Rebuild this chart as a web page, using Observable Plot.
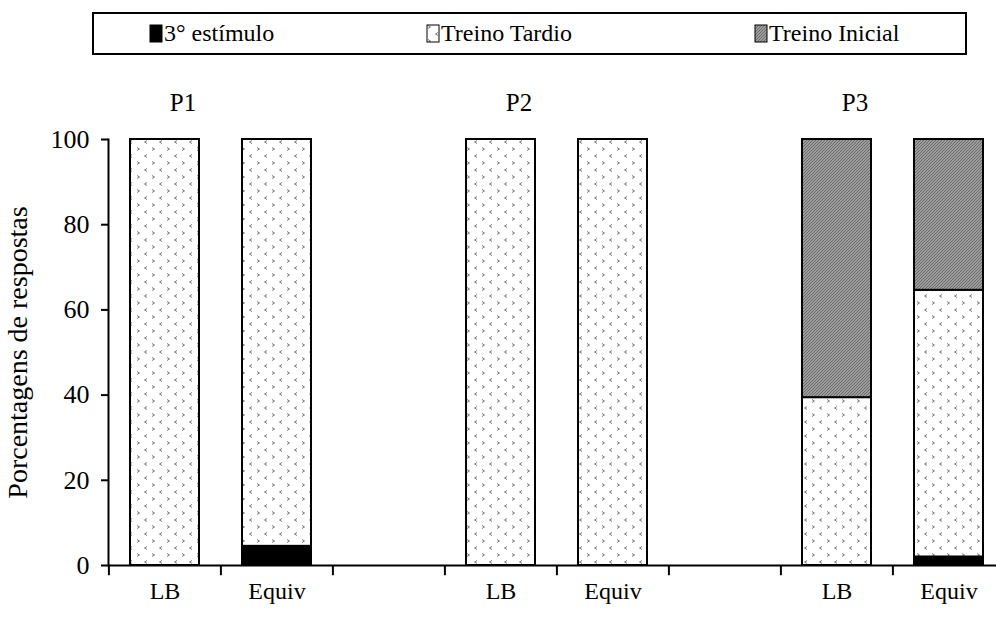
<!DOCTYPE html>
<html>
<head>
<meta charset="utf-8">
<script src="https://cdn.jsdelivr.net/npm/d3@7"></script>
<script src="https://cdn.jsdelivr.net/npm/@observablehq/plot@0.6"></script>
<style>
  html, body { margin: 0; padding: 0; background: #fff; overflow: hidden; }
  body { width: 996px; height: 622px; font-family: "Liberation Serif", "Times New Roman", Tinos, "DejaVu Serif", serif; }
  #legend { position: relative; height: 62px; }
  #legend .box { position: absolute; left: 92px; top: 12px; width: 871px; height: 39px; border: 2px solid #000; }
  #legend .item { position: absolute; top: 0; height: 39px; display: flex; align-items: center; font-size: 24px; }
  #legend svg { display: block; margin-right: 1px; }
  #chart svg text { font-family: "Liberation Serif", "Times New Roman", Tinos, "DejaVu Serif", serif; }
</style>
</head>
<body>
<div id="legend"><div class="box"></div></div>
<div id="chart"></div>
<script>
// ---- data ----
const categories = ["P1 LB", "P1 Equiv", "gap1", "P2 LB", "P2 Equiv", "gap2", "P3 LB", "P3 Equiv"];
const tickLabels = ["LB", "Equiv", "", "LB", "Equiv", "", "LB", "Equiv"];
const seriesNames = ["3° estímulo", "Treino Tardio", "Treino Inicial"];
const estimulo = [0, 4.5, null, 0, 0, null, 0, 2];
const tardio   = [100, 95.5, null, 100, 100, null, 39.4, 62.6];
const inicial  = [0, 0, null, 0, 0, null, 60.6, 35.4];
const panelTitles = ["P1", "P2", "P3"];
const panelAnchors = ["P1 LB", "P2 LB", "P3 LB"];
const yTicks = [0, 20, 40, 60, 80, 100];
const yLabel = "Porcentagens de respostas";

// ---- table for the library ----
const rows = [];
const seriesValues = [estimulo, tardio, inicial];
categories.forEach((c, i) => {
  seriesNames.forEach((s, k) => {
    const v = seriesValues[k][i];
    if (v != null && v > 0) rows.push({cat: c, series: s, value: v});
  });
});
const titles = panelTitles.map((t, i) => ({t, cat: panelAnchors[i]}));

const fills = ["#000", "url(#pTardio)", "url(#pInicial)"];
const FONT = "'Liberation Serif', 'Times New Roman', Tinos, 'DejaVu Serif', serif";

const chart = Plot.plot({
  width: 996,
  height: 560,
  marginLeft: 108,
  marginRight: 0,
  marginTop: 77,
  marginBottom: 57,
  style: {fontFamily: FONT, fontSize: "23px", background: "#fff", color: "#000", overflow: "visible"},
  x: {domain: categories, range: [108, 1006], paddingInner: 0.38, paddingOuter: 0.19, axis: null},
  y: {domain: [0, 100], axis: null},
  color: {domain: seriesNames, range: fills},
  marks: [
    Plot.barY(rows, Plot.stackY({x: "cat", y: "value", fill: "series", order: seriesNames, stroke: "#000", strokeWidth: 2})),
    Plot.ruleY([0], {stroke: "#000", strokeWidth: 2}),
    Plot.frame({anchor: "left", stroke: "#000", strokeWidth: 2}),
    Plot.ruleX(categories, {x: d => d, y1: 0, y2: -2.4, dx: -56.1, stroke: "#000", strokeWidth: 2}),
    Plot.axisY({ticks: yTicks, tickSize: 7, tickPadding: 12, fontSize: 26, strokeWidth: 2, label: null}),
    Plot.axisX({tickSize: 0, tickPadding: 16, fontSize: 24, label: null, tickFormat: d => tickLabels[categories.indexOf(d)]}),
    Plot.text([yLabel], {frameAnchor: "left", text: d => d, rotate: -90, textAnchor: "middle", dx: -90, fontSize: 28}),
    Plot.text(titles, {x: "cat", y: () => 100, text: "t", dx: 18, dy: -37, fontSize: 25})
  ]
});

const defs = `
<defs>
  <pattern id="pTardio" patternUnits="userSpaceOnUse" width="15" height="14">
    <rect width="15" height="14" fill="#fff"/>
    <path d="M2,1.5 L4.5,3 L2,4.5" fill="none" stroke="#7a7a7a" stroke-width="1"/>
    <path d="M12,8.5 L9.5,10 L12,11.5" fill="none" stroke="#7a7a7a" stroke-width="1"/>
  </pattern>
  <pattern id="pInicial" patternUnits="userSpaceOnUse" width="3" height="3">
    <rect width="3" height="3" fill="#9c9c9c"/>
    <path d="M0,3 L3,0" stroke="#6c6c6c" stroke-width="1"/>
  </pattern>
</defs>`;
chart.insertAdjacentHTML("afterbegin", defs);
document.getElementById("chart").appendChild(chart);

// ---- legend ----
const legendX = [55, 332, 660];
const box = document.querySelector("#legend .box");
seriesNames.forEach((s, i) => {
  const it = document.createElement("div");
  it.className = "item";
  it.style.left = legendX[i] + "px";
  it.innerHTML = `<svg width="14" height="19"><rect x="1" y="1" width="12" height="17" fill="${fills[i]}" stroke="#000" stroke-width="1"/></svg><span>${s}</span>`;
  box.appendChild(it);
});
</script>
</body>
</html>
